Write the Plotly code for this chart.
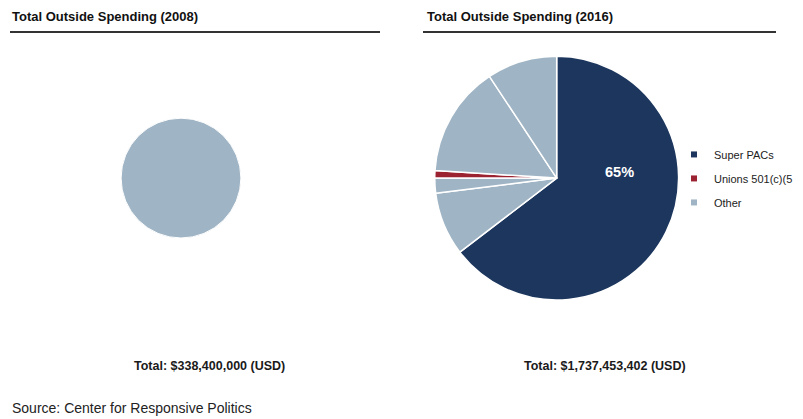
import plotly.graph_objects as go

# Data
title_2008 = "Total Outside Spending (2008)"
title_2016 = "Total Outside Spending (2016)"
labels_2008 = ["Other"]
values_2008 = [100]
labels_2016 = ["Super PACs", "Other 1", "Other 2", "Unions 501(c)(5", "Other 3", "Other 4"]
values_2016 = [64.6, 8.4, 2.0, 1.0, 14.7, 9.3]
groups_2016 = ["Super PACs", "Other", "Other", "Unions 501(c)(5", "Other", "Other"]
legend_names = ["Super PACs", "Unions 501(c)(5", "Other"]
total_2008 = "Total: $338,400,000 (USD)"
total_2016 = "Total: $1,737,453,402 (USD)"
source = "Source: Center for Responsive Politics"

colors = {"Super PACs": "#1c365d", "Unions 501(c)(5": "#9b2230", "Other": "#9fb4c4"}
FONT = "Liberation Sans, Arial, sans-serif"

fig = go.Figure()

fig.add_trace(go.Pie(
    labels=labels_2008, values=values_2008,
    marker=dict(colors=[colors["Other"]], line=dict(color="white", width=1)),
    textinfo="none", sort=False, showlegend=False, hoverinfo="label+percent",
    domain=dict(x=[0.1507, 0.3001], y=[0.432, 0.718]),
))

fig.add_trace(go.Pie(
    labels=labels_2016, values=values_2016,
    marker=dict(colors=[colors[g] for g in groups_2016], line=dict(color="white", width=1.5)),
    textinfo="none", sort=False, direction="clockwise", rotation=0,
    showlegend=False, hoverinfo="label+percent",
    domain=dict(x=[0.5413, 0.8452], y=[0.284, 0.866]),
))

for i, name in enumerate(legend_names):
    fig.add_trace(go.Scatter(
        x=[None], y=[None], mode="markers", name=name, legendgroup=f"g{i}",
        marker=dict(symbol="square", size=6, color=colors[name]),
        showlegend=True,
    ))

fig.update_layout(
    width=803, height=419,
    margin=dict(l=0, r=0, t=0, b=0),
    paper_bgcolor="white", plot_bgcolor="white",
    font=dict(family=FONT, color="#222222"),
    xaxis=dict(visible=False), yaxis=dict(visible=False),
    showlegend=True,
    legend=dict(x=674/803, y=0.666, xanchor="left", yanchor="top",
                font=dict(size=11, color="#222222"), tracegroupgap=5,
                bgcolor="rgba(0,0,0,0)", itemwidth=30),
    shapes=[
        dict(type="line", xref="paper", yref="paper", x0=10/803, x1=380/803,
             y0=1-32/419, y1=1-32/419, line=dict(color="#333333", width=2)),
        dict(type="line", xref="paper", yref="paper", x0=423/803, x1=776/803,
             y0=1-32/419, y1=1-32/419, line=dict(color="#333333", width=2)),
    ],
    annotations=[
        dict(text=f"<b>{title_2008}</b>", x=10/803, y=1-17/419, xref="paper", yref="paper",
             xanchor="left", yanchor="middle", showarrow=False, font=dict(size=13, color="#111111")),
        dict(text=f"<b>{title_2016}</b>", x=425/803, y=1-17/419, xref="paper", yref="paper",
             xanchor="left", yanchor="middle", showarrow=False, font=dict(size=13, color="#111111")),
        dict(text=f"<b>{total_2008}</b>", x=209/803, y=1-366/419, xref="paper", yref="paper",
             xanchor="center", yanchor="middle", showarrow=False, font=dict(size=12.5, color="#1a1a1a")),
        dict(text=f"<b>{total_2016}</b>", x=605/803, y=1-366/419, xref="paper", yref="paper",
             xanchor="center", yanchor="middle", showarrow=False, font=dict(size=12.5, color="#1a1a1a")),
        dict(text=source, x=10/803, y=1-408/419, xref="paper", yref="paper",
             xanchor="left", yanchor="middle", showarrow=False, font=dict(size=14, color="#222222")),
        dict(text=f"<b>{round(values_2016[0])}%</b>", x=619/803, y=1-172/419, xref="paper", yref="paper",
             xanchor="center", yanchor="middle", showarrow=False, font=dict(size=14.5, color="white")),
    ],
)

fig.write_html("out.html", config={"displayModeBar": False},
               post_script="document.body.style.margin='0';document.body.style.overflow='hidden';")
